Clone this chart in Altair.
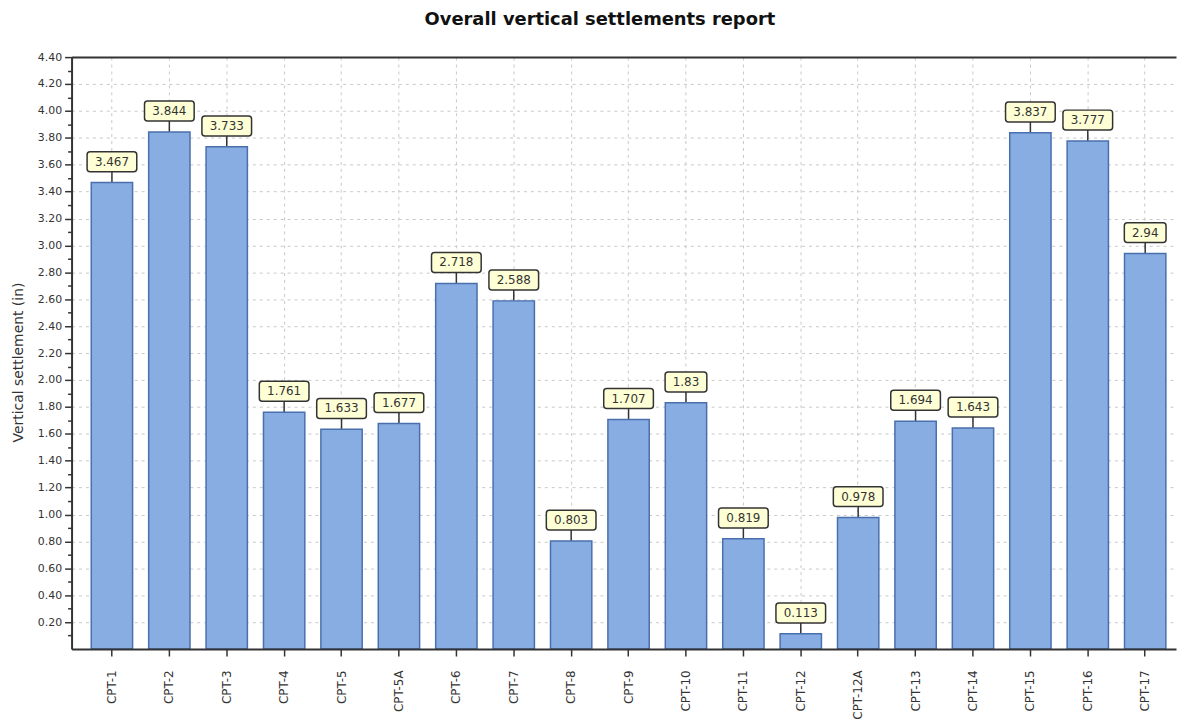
import altair as alt
import pandas as pd

categories = ["CPT-1", "CPT-2", "CPT-3", "CPT-4", "CPT-5", "CPT-5A", "CPT-6", "CPT-7",
              "CPT-8", "CPT-9", "CPT-10", "CPT-11", "CPT-12", "CPT-12A", "CPT-13",
              "CPT-14", "CPT-15", "CPT-16", "CPT-17"]
settlements = [3.467, 3.844, 3.733, 1.761, 1.633, 1.677, 2.718, 2.588, 0.803, 1.707,
               1.83, 0.819, 0.113, 0.978, 1.694, 1.643, 3.837, 3.777, 2.94]
labels = ["3.467", "3.844", "3.733", "1.761", "1.633", "1.677", "2.718", "2.588", "0.803",
          "1.707", "1.83", "0.819", "0.113", "0.978", "1.694", "1.643", "3.837", "3.777", "2.94"]
major_ticks = [0.2, 0.4, 0.6, 0.8, 1.0, 1.2, 1.4, 1.6, 1.8, 2.0, 2.2, 2.4, 2.6, 2.8,
               3.0, 3.2, 3.4, 3.6, 3.8, 4.0, 4.2, 4.4]
minor_ticks = [0.1, 0.3, 0.5, 0.7, 0.9, 1.1, 1.3, 1.5, 1.7, 1.9, 2.1, 2.3, 2.5, 2.7,
               2.9, 3.1, 3.3, 3.5, 3.7, 3.9, 4.1, 4.3]

df = pd.DataFrame({"cpt": categories, "value": settlements, "label": labels})

FONT = "DejaVu Sans"
AX = "#333333"

xscale = alt.Scale(paddingInner=0.28, paddingOuter=0.26, align=0.66)
yscale = alt.Scale(domain=[0, 4.4], nice=False, zero=True)

base = alt.Chart(df)

# bars with main axes (on top of marks)
bars = base.mark_bar(color="#88ade2", stroke="#4a6fad", strokeWidth=1.5).encode(
    x=alt.X("cpt:N", sort=categories, scale=xscale,
            axis=alt.Axis(orient="bottom", title=None, labelAngle=270, labelAlign="right",
                          labelBaseline="middle", labelFont=FONT, labelFontSize=12,
                          labelColor=AX, labelPadding=14, tickSize=7, tickColor=AX,
                          tickWidth=1.5, domainColor=AX, domainWidth=2, grid=False,
                          bandPosition=0.5, zindex=1)),
    y=alt.Y("value:Q", scale=yscale,
            axis=alt.Axis(orient="left", values=major_ticks, format=".2f",
                          title="Vertical settlement (in)", titleFont=FONT,
                          titleFontSize=14, titleFontWeight="normal", titleColor=AX,
                          titlePadding=12, titleY=307, labelFont=FONT, labelFontSize=11,
                          labelColor=AX, labelPadding=3, tickSize=7, tickColor=AX,
                          tickWidth=1.5, domainColor=AX, domainWidth=2, grid=False,
                          zindex=1)),
)

# connector rules, carrying grid-only axes (behind marks)
connectors = base.mark_rule(color=AX, strokeWidth=1.5, y2Offset=-11).encode(
    x=alt.X("cpt:N", sort=categories, scale=xscale,
            axis=alt.Axis(orient="bottom", labels=False, ticks=False, domain=False,
                          title=None, grid=True, gridColor="#c8c8c8", gridDash=[3, 4],
                          gridWidth=1, bandPosition=0.5, zindex=0)),
    y=alt.Y("value:Q", scale=yscale,
            axis=alt.Axis(orient="left", values=major_ticks, labels=False, ticks=False,
                          domain=False, title=None, grid=True, gridColor="#c8c8c8",
                          gridDash=[3, 4], gridWidth=1, zindex=0)),
    y2=alt.Y2("value"),
)

# label boxes
def box(width, cond):
    return base.transform_filter(cond).mark_bar(
        width=width, fill="#ffffd6", stroke=AX, strokeWidth=1.5, cornerRadius=3,
        yOffset=-31, y2Offset=-11
    ).encode(
        x=alt.X("cpt:N", sort=categories, scale=xscale, axis=None),
        y=alt.Y("value:Q", scale=yscale, axis=None),
        y2=alt.Y2("value"),
    )

box5 = box(50, "length(datum.label) == 5")
box4 = box(42, "length(datum.label) == 4")

# text, carrying minor y ticks and top border
text = base.mark_text(font=FONT, fontSize=12, color=AX, yOffset=-21,
                      baseline="middle").encode(
    x=alt.X("cpt:N", sort=categories, scale=xscale,
            axis=alt.Axis(orient="top", labels=False, ticks=False, grid=False,
                          title=None, domainColor=AX, domainWidth=2, zindex=1)),
    y=alt.Y("value:Q", scale=yscale,
            axis=alt.Axis(orient="left", values=minor_ticks, labels=False, tickSize=4,
                          tickColor=AX, tickWidth=1.5, domain=False, grid=False,
                          title=None, zindex=1)),
    text="label:N",
)

chart = alt.layer(connectors, bars, box5, box4, text).resolve_axis(
    x="independent", y="independent"
).properties(
    width=1112, height=596,
    padding={"left": 64, "top": 47, "right": 1, "bottom": 68},
    autosize=alt.AutoSizeParams(type="none"),
    title=alt.TitleParams("Overall vertical settlements report", font=FONT, fontSize=18,
                          fontWeight="bold", color="#111111", anchor="middle",
                          dx=-24, offset=22),
).configure_view(stroke=None)

chart.save("out.html", embed_options={"renderer": "svg", "actions": False})
